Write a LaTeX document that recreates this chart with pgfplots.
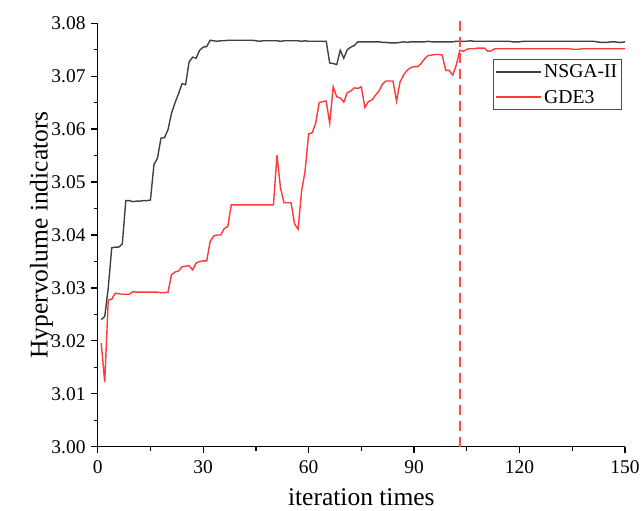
\documentclass[border=0pt]{standalone}
\usepackage{fontspec}
\setmainfont{Liberation Serif}
\usepackage{pgfplots}
\pgfplotsset{compat=1.18}
\definecolor{nsga}{HTML}{404040}
\definecolor{gde}{HTML}{FF3838}
\definecolor{vline}{HTML}{FF4A4A}
\begin{document}
\begin{tikzpicture}
\begin{axis}[
  at={(0,0)}, anchor=south west,
  scale only axis, width=527.3bp, height=423.4bp,
  xmin=0, xmax=150, ymin=3.00, ymax=3.08,
  axis lines=left,
  axis line style={-, line width=1.3bp, black},
  xtick={0,30,60,90,120,150},
  ytick={3.00,3.01,3.02,3.03,3.04,3.05,3.06,3.07,3.08},
  minor x tick num=1, minor y tick num=1,
  tick align=outside,
  major tick length=6.7bp, minor tick length=4bp,
  every tick/.style={black, line width=1.3bp},
  yticklabel style={/pgf/number format/.cd, fixed, fixed zerofill, precision=2},
  /pgf/number format/assume math mode=true,
  ticklabel style={font=\fontsize{19.5}{19.5}\selectfont},
  xticklabel shift=4bp, yticklabel shift=2bp,
  xlabel={iteration times}, ylabel={Hypervolume indicators},
  label style={font=\fontsize{25.6}{25.6}\selectfont},
  xlabel style={at={([yshift=-59bp]axis description cs:0.5,0)}, anchor=base},
  ylabel style={at={([xshift=-50bp]axis description cs:0,0.5)}, rotate=0, anchor=base},
  legend style={at={(0.9937,0.915)}, anchor=north east, draw=black!70, line width=0.8bp,
     font=\fontsize{19.7}{19.7}\selectfont, inner xsep=2bp, inner ysep=3bp, row sep=7bp},
  legend cell align=left,
  legend image code/.code={\draw[#1, line width=1.9bp] (0bp,0.25bp) -- (45bp,0.25bp);},
  clip=false,
]
\addplot[nsga, line width=1.4bp] coordinates {
(1,3.0240)(2,3.0246)(3,3.0300)(4,3.0376)(5,3.0377)(6,3.0377)(7,3.0383)(8,3.0465)(9,3.0465)(10,3.0463)
(11,3.0464)(12,3.0464)(13,3.0465)(14,3.0465)(15,3.0466)(16,3.0533)(17,3.0545)(18,3.0583)(19,3.0584)(20,3.0599)
(21,3.0630)(22,3.0650)(23,3.0667)(24,3.0686)(25,3.0684)(26,3.0727)(27,3.0736)(28,3.0734)(29,3.0749)(30,3.0755)
(31,3.0756)(32,3.0768)(33,3.0767)(34,3.0766)(35,3.0767)(36,3.0767)(37,3.0768)(38,3.0768)(39,3.0768)(40,3.0768)
(41,3.0768)(42,3.0768)(43,3.0768)(44,3.0768)(45,3.0767)(46,3.0766)(47,3.0767)(48,3.0767)(49,3.0767)(50,3.0767)
(51,3.0767)(52,3.0766)(53,3.0767)(54,3.0767)(55,3.0767)(56,3.0767)(57,3.0767)(58,3.0766)(59,3.0767)(60,3.0766)
(61,3.0766)(62,3.0766)(63,3.0766)(64,3.0766)(65,3.0766)(66,3.0725)(67,3.0724)(68,3.0722)(69,3.0749)(70,3.0734)
(71,3.0750)(72,3.0755)(73,3.0758)(74,3.0765)(75,3.0765)(76,3.0765)(77,3.0765)(78,3.0765)(79,3.0765)(80,3.0765)
(81,3.0764)(82,3.0764)(83,3.0763)(84,3.0763)(85,3.0763)(86,3.0764)(87,3.0765)(88,3.0764)(89,3.0765)(90,3.0765)
(91,3.0765)(92,3.0765)(93,3.0765)(94,3.0766)(95,3.0765)(96,3.0765)(97,3.0765)(98,3.0765)(99,3.0765)(100,3.0765)
(101,3.0765)(102,3.0766)(103,3.0766)(104,3.0766)(105,3.0766)(106,3.0767)(107,3.0766)(108,3.0766)(109,3.0766)(110,3.0766)
(111,3.0766)(112,3.0766)(113,3.0766)(114,3.0766)(115,3.0766)(116,3.0766)(117,3.0766)(118,3.0765)(119,3.0765)(120,3.0765)
(121,3.0766)(122,3.0766)(123,3.0766)(124,3.0766)(125,3.0766)(126,3.0766)(127,3.0766)(128,3.0766)(129,3.0766)(130,3.0766)
(131,3.0766)(132,3.0766)(133,3.0766)(134,3.0766)(135,3.0766)(136,3.0766)(137,3.0766)(138,3.0766)(139,3.0766)(140,3.0766)
(141,3.0766)(142,3.0765)(143,3.0764)(144,3.0764)(145,3.0764)(146,3.0765)(147,3.0765)(148,3.0764)(149,3.0764)(150,3.0765)
};
\addlegendentry{NSGA-II}
\addplot[gde, line width=1.4bp] coordinates {
(1,3.0196)(2,3.0122)(3,3.0277)(4,3.0279)(5,3.0290)(6,3.0289)(7,3.0288)(8,3.0288)(9,3.0288)(10,3.0293)
(11,3.0292)(12,3.0292)(13,3.0292)(14,3.0292)(15,3.0292)(16,3.0292)(17,3.0292)(18,3.0291)(19,3.0291)(20,3.0292)
(21,3.0325)(22,3.0330)(23,3.0332)(24,3.0340)(25,3.0341)(26,3.0342)(27,3.0334)(28,3.0347)(29,3.0350)(30,3.0351)
(31,3.0351)(32,3.0388)(33,3.0398)(34,3.0400)(35,3.0400)(36,3.0412)(37,3.0416)(38,3.0457)(39,3.0457)(40,3.0457)
(41,3.0457)(42,3.0457)(43,3.0457)(44,3.0457)(45,3.0457)(46,3.0457)(47,3.0457)(48,3.0457)(49,3.0457)(50,3.0457)
(51,3.0551)(52,3.0489)(53,3.0461)(54,3.0461)(55,3.0461)(56,3.0421)(57,3.0411)(58,3.0483)(59,3.0521)(60,3.0591)
(61,3.0593)(62,3.0611)(63,3.0650)(64,3.0652)(65,3.0653)(66,3.0611)(67,3.0680)(68,3.0661)(69,3.0659)(70,3.0651)
(71,3.0669)(72,3.0672)(73,3.0678)(74,3.0677)(75,3.0680)(76,3.0641)(77,3.0652)(78,3.0655)(79,3.0664)(80,3.0672)
(81,3.0685)(82,3.0691)(83,3.0691)(84,3.0691)(85,3.0653)(86,3.0689)(87,3.0702)(88,3.0711)(89,3.0716)(90,3.0718)
(91,3.0718)(92,3.0724)(93,3.0733)(94,3.0739)(95,3.0740)(96,3.0741)(97,3.0741)(98,3.0740)(99,3.0711)(100,3.0711)
(101,3.0702)(102,3.0721)(103,3.0749)(104,3.0747)(105,3.0751)(106,3.0752)(107,3.0752)(108,3.0753)(109,3.0753)(110,3.0753)
(111,3.0747)(112,3.0748)(113,3.0752)(114,3.0752)(115,3.0752)(116,3.0752)(117,3.0752)(118,3.0752)(119,3.0752)(120,3.0752)
(121,3.0752)(122,3.0752)(123,3.0752)(124,3.0752)(125,3.0752)(126,3.0752)(127,3.0752)(128,3.0752)(129,3.0752)(130,3.0752)
(131,3.0752)(132,3.0752)(133,3.0752)(134,3.0752)(135,3.0751)(136,3.0751)(137,3.0751)(138,3.0752)(139,3.0752)(140,3.0752)
(141,3.0752)(142,3.0752)(143,3.0752)(144,3.0752)(145,3.0752)(146,3.0752)(147,3.0752)(148,3.0752)(149,3.0752)(150,3.0752)
};
\addlegendentry{GDE3}
\addplot[vline, line width=1.6bp, dash pattern=on 10bp off 6bp, forget plot] coordinates {(103,3.00)(103,3.0805)};
\end{axis}
\pgfresetboundingbox
\path[use as bounding box] (-97.7bp,-64.3bp) rectangle (545.3bp,446.7bp);
\end{tikzpicture}
\end{document}
